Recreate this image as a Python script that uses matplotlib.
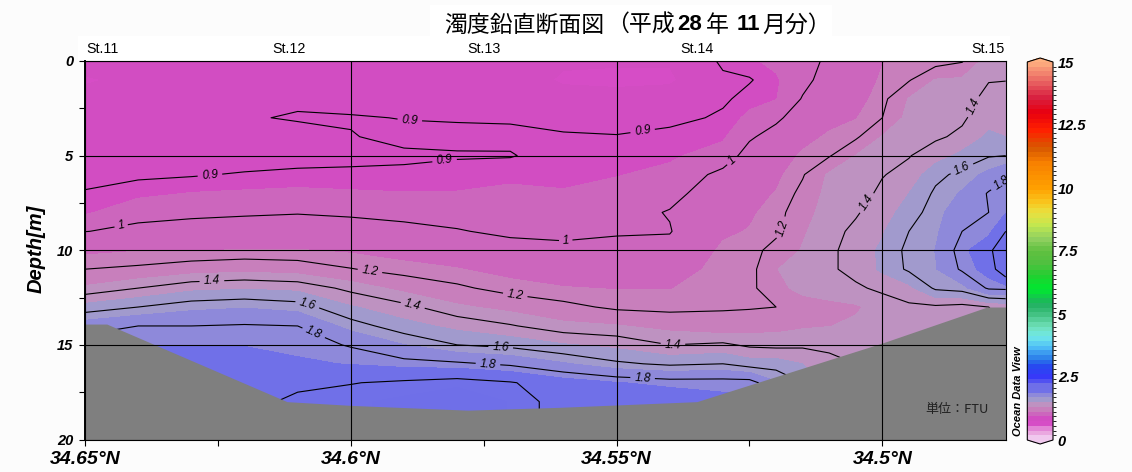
#!/usr/bin/env python3
import numpy as np
import matplotlib
matplotlib.use("Agg")
import matplotlib.pyplot as plt
from matplotlib.colors import LinearSegmentedColormap, ListedColormap, BoundaryNorm
from matplotlib.patches import Rectangle

W, H = 1132, 472

# section grid
lats = [34.65, 34.64, 34.63, 34.62, 34.61, 34.60, 34.59, 34.58, 34.57, 34.56, 34.55, 34.54,
        34.53, 34.525, 34.52, 34.515, 34.51, 34.505, 34.50, 34.495, 34.49, 34.485, 34.48, 34.4768]
depths = list(range(20))

# one row per latitude, one value per metre of depth
turbidity = [
    [.79, .74, .78, .80, .82, .85, .88, .905, .93, .998, 1.10, 1.20, 1.33, 1.54, 1.75, 1.86, 1.92, 1.96, 1.96, 1.96],
    [.78, .77, .79, .81, .83, .85, .89, .925, .975, 1.02, 1.12, 1.22, 1.40, 1.60, 1.80, 1.87, 1.93, 1.98, 1.98, 1.98],
    [.78, .78, .80, .82, .84, .86, .895, .94, .985, 1.03, 1.12, 1.26, 1.47, 1.66, 1.80, 1.87, 1.93, 1.98, 1.98, 1.98],
    [.79, .79, .80, .895, .85, .87, .905, .945, .99, 1.04, 1.13, 1.28, 1.49, 1.68, 1.81, 1.87, 1.93, 1.98, 1.985, 1.985],
    [.80, .82, .89, .905, .88, .88, .91, .95, .995, 1.05, 1.13, 1.26, 1.47, 1.65, 1.80, 1.85, 1.89, 1.99, 2.01, 2.01],
    [.81, .83, .875, .905, .897, .89, .907, .945, .99, 1.03, 1.11, 1.205, 1.37, 1.51, 1.65, 1.79, 1.87, 1.995, 2.05, 2.05],
    [.80, .82, .85, .898, .915, .89, .911, .94, .98, 1.02, 1.08, 1.16, 1.28, 1.43, 1.54, 1.69, 1.84, 2.02, 2.08, 2.08],
    [.80, .81, .84, .895, .915, .895, .92, .94, .97, 1.005, 1.06, 1.13, 1.22, 1.33, 1.47, 1.60, 1.82, 2.05, 2.10, 2.10],
    [.79, .79, .82, .895, .91, .897, .925, .95, .97, .985, 1.03, 1.09, 1.16, 1.28, 1.41, 1.57, 1.78, 2.01, 2.06, 2.06],
    [.76, .74, .78, .87, .91, .92, .93, .94, .96, .98, 1.02, 1.07, 1.13, 1.23, 1.34, 1.51, 1.70, 1.93, 1.95, 1.95],
    [.76, .73, .78, .86, .905, .92, .935, .955, .97, .99, 1.03, 1.07, 1.12, 1.18, 1.32, 1.47, 1.62, 1.88, 1.95, 1.95],
    [.76, .73, .81, .88, .92, .93, .95, .975, 1.005, .995, 1.03, 1.07, 1.12, 1.17, 1.28, 1.40, 1.58, 1.85, 1.95, 1.95],
    [.92, .88, .89, .91, .93, .96, 1.02, 1.05, 1.08, 1.11, 1.14, 1.16, 1.18, 1.19, 1.24, 1.42, 1.60, 1.85, 1.90, 1.90],
    [.93, .895, .92, .95, .99, 1.03, 1.06, 1.09, 1.11, 1.13, 1.15, 1.16, 1.17, 1.19, 1.27, 1.38, 1.55, 1.85, 1.90, 1.90],
    [.95, .93, .935, .985, 1.03, 1.07, 1.10, 1.13, 1.16, 1.17, 1.25, 1.31, 1.28, 1.20, 1.28, 1.37, 1.55, 1.70, 1.70, 1.70],
    [.96, .98, 1.005, 1.04, 1.09, 1.14, 1.19, 1.23, 1.27, 1.30, 1.32, 1.34, 1.345, 1.26, 1.30, 1.38, 1.50, 1.60, 1.60, 1.60],
    [1.02, 1.03, 1.05, 1.09, 1.14, 1.19, 1.33, 1.35, 1.36, 1.37, 1.38, 1.385, 1.37, 1.28, 1.31, 1.385, 1.42, 1.45, 1.45, 1.45],
    [1.05, 1.06, 1.08, 1.12, 1.18, 1.315, 1.34, 1.36, 1.39, 1.42, 1.44, 1.43, 1.385, 1.30, 1.33, 1.38, 1.40, 1.40, 1.40, 1.40],
    [1.12, 1.14, 1.17, 1.20, 1.32, 1.36, 1.395, 1.42, 1.45, 1.49, 1.52, 1.52, 1.42, 1.35, 1.37, 1.36, 1.36, 1.36, 1.36, 1.36],
    [1.16, 1.19, 1.32, 1.35, 1.37, 1.395, 1.43, 1.50, 1.55, 1.60, 1.63, 1.62, 1.47, 1.38, 1.36, 1.36, 1.36, 1.36, 1.36, 1.36],
    [1.15, 1.32, 1.35, 1.37, 1.385, 1.45, 1.57, 1.62, 1.65, 1.67, 1.69, 1.68, 1.62, 1.38, 1.36, 1.36, 1.36, 1.36, 1.36, 1.36],
    [1.19, 1.33, 1.36, 1.385, 1.42, 1.53, 1.63, 1.70, 1.76, 1.80, 1.85, 1.82, 1.65, 1.36, 1.36, 1.36, 1.36, 1.36, 1.36, 1.36],
    [1.37, 1.395, 1.43, 1.46, 1.52, 1.59, 1.72, 1.81, 1.80, 1.85, 1.95, 1.92, 1.82, 1.40, 1.40, 1.40, 1.40, 1.40, 1.40, 1.40],
    [1.38, 1.398, 1.43, 1.46, 1.50, 1.60, 1.79, 1.82, 1.87, 2.00, 2.18, 2.12, 1.83, 1.42, 1.40, 1.40, 1.40, 1.40, 1.40, 1.40],
]

# sea floor
bottom_lats = [34.65, 34.6459, 34.612, 34.5998, 34.578, 34.5607, 34.5349, 34.50, 34.4803, 34.4768]
bottom_depths = [13.9, 13.9, 18.0, 18.2, 18.45, 18.3, 18.0, 14.9, 13.0, 13.0]

line_levels = [0.9, 1, 1.2, 1.4, 1.6, 1.8, 2.0]
label_spots = [
    (34.6265, 6.03), (34.5823, 5.40), (34.5889, 3.12), (34.5451, 3.70),
    (34.6430, 9.0), (34.5595, 9.68), (34.5283, 5.24),
    (34.5964, 11.1), (34.5691, 12.43), (34.5185, 8.84),
    (34.6261, 11.85), (34.5883, 12.86), (34.5394, 15.08), (34.5029, 7.51), (34.4807, 2.7),
    (34.6081, 12.8), (34.5718, 15.13), (34.4851, 5.66),
    (34.6073, 14.55), (34.5742, 16.03), (34.5451, 16.72), (34.4779, 6.35),
]

lat_ticks = [34.65, 34.6, 34.55, 34.5]
lat_labels = ["34.65°N", "34.6°N", "34.55°N", "34.5°N"]
lat_minor = [34.625, 34.575, 34.525]
depth_ticks = [0, 5, 10, 15, 20]
depth_minor = [2.5, 7.5, 12.5, 17.5]
bar_ticks = [0, 2.5, 5, 7.5, 10, 12.5, 15]
bar_labels = ["0", "2.5", "5", "7.5", "10", "12.5", "15"]

stations = ["St.11", "St.12", "St.13", "St.14", "St.15"]
station_px = [86, 272, 467, 680, 971]

# colour ramp of the scale: value, colour
ramp_values = [0, .09, .28, .47, .66, .84, 1.03, 1.22, 1.41, 1.59, 1.78, 1.97, 2.16, 2.5, 2.9, 3.2, 3.7, 4.1,
               4.5, 5, 5.4, 6, 6.5, 7, 7.5, 8, 8.5, 9, 9.4, 10, 11, 11.6, 12.3, 13, 13.6, 14.2, 15]
ramp_colors = ["#f0c8ee", "#f0c8ee", "#eaa8e0", "#e285d6", "#d548c5", "#d24dc2", "#cc66bd", "#c87fbc", "#be92c1",
               "#a09acd", "#8d88da", "#6f6fe8", "#6f6fe8", "#3838f8", "#2848f0", "#2878e8", "#50c0f8", "#70e8e8",
               "#70e0b8", "#40c080", "#20b060", "#00e830", "#20d030", "#50c040", "#60c040", "#90d060", "#c0e850",
               "#e8e040", "#f8c820", "#ffa000", "#f88000", "#d85800", "#ff2000", "#e80010", "#d82040", "#e86060",
               "#ffb080"]

SANS = "Liberation Sans"
CJK = "Noto Sans CJK JP"

levels = np.arange(0, 15.01, 0.1875)
ramp = LinearSegmentedColormap.from_list(
    "odv", [(v / 15, c) for v, c in zip(ramp_values, ramp_colors)], N=1024)
cmap = ListedColormap(ramp((levels[:-1] + 0.09375) / 15))
cmap.set_under(ramp(0.0))
cmap.set_over(ramp(1.0))
norm = BoundaryNorm(levels, cmap.N)


def fx(px):
    return px / W


def fy(py):
    return 1 - py / H


fig = plt.figure(figsize=(W / 100, H / 100), dpi=100, facecolor="#fcfcfc")

# white boxes behind the title and the station row
fig.add_artist(Rectangle((fx(78), fy(60)), fx(932), 24 / H, transform=fig.transFigure, color="white", lw=0))
fig.add_artist(Rectangle((fx(430), fy(36)), fx(402), 31 / H, transform=fig.transFigure, color="white", lw=0))

ax = fig.add_axes([fx(85), fy(439.5), fx(920.7), 378.5 / H])

grid = np.array(turbidity).T
cf = ax.contourf(lats, depths, grid, levels=levels, cmap=cmap, norm=norm, extend="both")
cs = ax.contour(lats, depths, grid, levels=line_levels, colors="black", linewidths=0.8, zorder=2.1)
labels = ax.clabel(cs, fmt="%g", fontsize=8.5, manual=label_spots, inline=True, inline_spacing=3)
for t in labels:
    t.set_fontstyle("italic")
    t.set_family(SANS)
    t.set_zorder(2.15)

ax.fill_between(bottom_lats, bottom_depths, 20, color="#7f7f7f", lw=0, zorder=2.2)

ax.set_xlim(34.65, 34.4768)
ax.set_ylim(20, 0)
ax.set_xticks(lat_ticks)
ax.set_xticklabels(lat_labels, family=SANS, weight="bold", style="italic", fontsize=14)
ax.set_xticks(lat_minor, minor=True)
ax.set_yticks(depth_ticks)
ax.set_yticklabels([str(d) for d in depth_ticks], family=SANS, weight="bold", style="italic", fontsize=10.5)
ax.set_yticks(depth_minor, minor=True)
ax.tick_params(which="both", length=4, width=0.8, color="black")
ax.tick_params(axis="x", which="major", pad=4.5)
ax.tick_params(axis="y", which="major", pad=4.5)
ax.set_axisbelow(False)
ax.grid(True, which="major", color="black", lw=0.8)
ax.spines["left"].set_linewidth(1.4)
for side in ["top", "bottom", "right"]:
    ax.spines[side].set_linewidth(0.8)

# scale on the right, the caps stick out past 0 and 15
cax = fig.add_axes([fx(1027.3), fy(444), fx(25.7), 386 / H])
bar = fig.colorbar(cf, cax=cax, extend="both", extendfrac=4 / 378, ticks=bar_ticks)
bar.ax.set_yticklabels(bar_labels, family=SANS, weight="bold", style="italic", fontsize=10.5)
bar.ax.tick_params(length=0, pad=3.5)
bar.outline.set_linewidth(0.8)

for name, px in zip(stations, station_px):
    fig.text(fx(px), fy(49), name, family=SANS, fontsize=10.3, ha="left", va="center")

fig.text(fx(36), fy(249), "Depth[m]", family=SANS, weight="bold", style="italic", fontsize=14.5,
         rotation=90, ha="center", va="center")
fig.text(fx(1018), fy(391), "Ocean Data View", family=SANS, weight="bold", style="italic", fontsize=8,
         rotation=90, ha="center", va="center")
fig.text(fx(925), fy(409), "単位：FTU", family=CJK, fontsize=9.4, color="#222222", ha="left", va="center")

# title comes in pieces because the numbers are bold
fig.text(fx(444), fy(25), "濁度鉛直断面図", family=CJK, fontsize=16.5, ha="left", va="center")
fig.text(fx(606), fy(25), "（平成", family=CJK, fontsize=16.5, ha="left", va="center")
fig.text(fx(677), fy(25), "28", family=SANS, weight="bold", fontsize=16, ha="left", va="center")
fig.text(fx(706), fy(25), "年", family=CJK, fontsize=16.5, ha="left", va="center")
fig.text(fx(737), fy(25), "11", family=SANS, weight="bold", fontsize=16, ha="left", va="center")
fig.text(fx(762), fy(25), "月分）", family=CJK, fontsize=16.5, ha="left", va="center")

fig.savefig("out.png", dpi=100, facecolor=fig.get_facecolor())
